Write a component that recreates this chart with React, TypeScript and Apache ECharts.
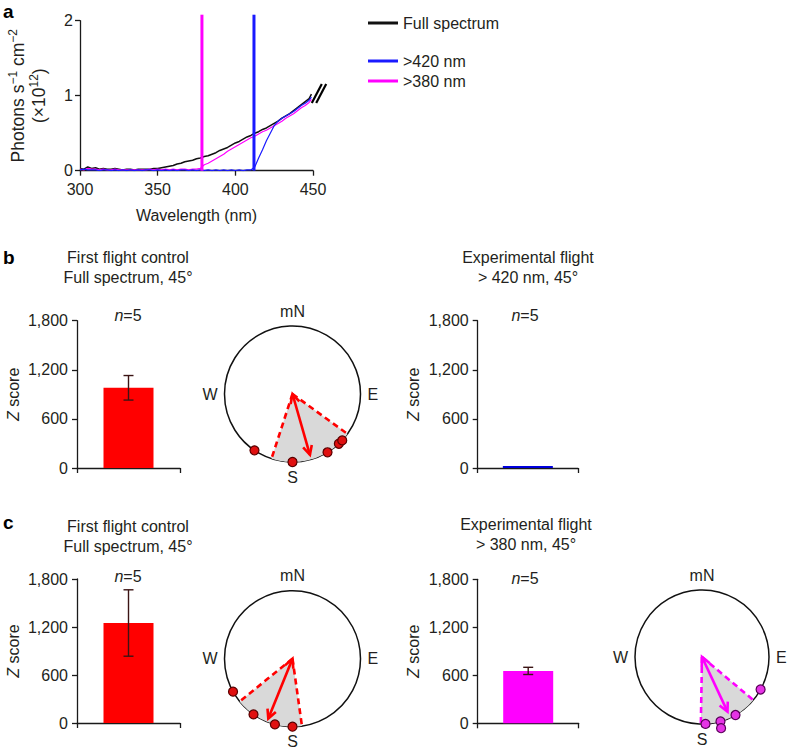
import React, { useEffect, useRef } from 'react';
import * as echarts from 'echarts';

const FONT = "'Liberation Sans', Arial, Helvetica, sans-serif";
const TXT = '#231f20';
const AX = '#1a1a1a';

// ---------- panel a: spectra ----------
const wavelengths = [
  300, 302.5, 305, 307.5, 310, 312.5, 315, 317.5, 320, 322.5, 325, 327.5, 330, 332.5, 335, 337.5, 340, 342.5, 345, 347.5,
  350, 352.5, 355, 357.5, 360, 362.5, 365, 367.5, 370, 372.5, 375, 377.5, 380, 382.5, 385, 387.5, 390, 392.5, 395, 397.5,
  400, 402.5, 405, 407.5, 410, 412.5, 415, 417.5, 420, 422.5, 425, 427.5, 430, 432.5, 435, 437.5, 440, 442.5, 445, 447.5, 449,
];
const fullSpectrum = [
  0.03, 0.02, 0.05, 0.03, 0.04, 0.02, 0.03, 0.02, 0.02, 0.03, 0.02, 0.01, 0.02, 0.02, 0.01, 0.02, 0.02, 0.02, 0.02, 0.03,
  0.03, 0.04, 0.05, 0.06, 0.07, 0.09, 0.1, 0.12, 0.13, 0.14, 0.16, 0.17, 0.19, 0.2, 0.22, 0.24, 0.27, 0.29, 0.31, 0.34,
  0.37, 0.39, 0.42, 0.45, 0.47, 0.5, 0.52, 0.55, 0.57, 0.6, 0.63, 0.66, 0.7, 0.73, 0.76, 0.8, 0.84, 0.88, 0.92, 0.96, 1.02,
];
const above380 = [
  0.02, 0.01, 0.03, 0.02, 0.02, 0.01, 0.02, 0.01, 0.01, 0.02, 0.01, 0.01, 0.01, 0.01, 0.01, 0.01, 0.01, 0.01, 0.02, 0.01,
  0.02, 0.01, 0.02, 0.01, 0.02, 0.01, 0.02, 0.02, 0.01, 0.02, 0.02, 0.03, 0.08, 0.1, 0.13, 0.16, 0.19, 0.22, 0.26, 0.29,
  0.32, 0.35, 0.38, 0.41, 0.44, 0.46, 0.49, 0.52, 0.54, 0.57, 0.6, 0.63, 0.66, 0.7, 0.73, 0.76, 0.8, 0.84, 0.87, 0.91, 0.95,
];
const above420 = [
  0.01, 0.02, 0.01, 0.01, 0.01, 0.0, 0.01, 0.01, 0.0, 0.01, 0.0, 0.01, 0.0, 0.01, 0.0, 0.01, 0.0, 0.01, 0.01, 0.0,
  0.01, 0.0, 0.01, 0.0, 0.01, 0.0, 0.01, 0.01, 0.0, 0.01, 0.0, 0.01, 0.0, 0.01, 0.0, 0.01, 0.0, 0.01, 0.0, 0.01,
  0.0, 0.01, 0.0, 0.01, 0.01, 0.05, 0.17, 0.28, 0.4, 0.5, 0.6, 0.66, 0.7, 0.73, 0.76, 0.79, 0.83, 0.87, 0.9, 0.94, 0.98,
];
const cutoffLines = [378.5, 412]; // >380 nm filter edge, >420 nm filter edge
const cutoffTop = 2.08;
const breakMark = [450, 1.05];

// ---------- bar panels ----------
const zTickValues = [0, 600, 1200, 1800];
const zTickLabels = ['0', '600', '1,200', '1,800'];
const barCategories = [''];
const zMeans = [980, 25, 1250, 655]; // b control, b >420, c control, c >380
const zErrors = [150, 0, 415, 45];
const sampleSizes = ['5', '5', '5', '5'];
const panelTitles = [
  ['First flight control', 'Full spectrum, 45°'],
  ['Experimental flight', '> 420 nm, 45°'],
  ['First flight control', 'Full spectrum, 45°'],
  ['Experimental flight', '> 380 nm, 45°'],
];

// ---------- circular panels: [radius, bearing] ----------
const compassLabels = ['mN', 'E', 'S', 'W', 'mN'];
const bControlDots = [[1, 214], [1, 180], [1, 149], [1, 137], [1, 133]];
const bControlMean = [0.93, 164];
const bControlCI = [126, 198];
const cControlDots = [[1, 241], [1, 215], [1, 195], [1, 180]];
const cControlMean = [0.95, 202];
const cControlCI = [172, 231];
const cExpDots = [[1, 119], [1, 150], [1, 164], [1.1, 165], [1, 177]];
const cExpMean = [0.9, 155];
const cExpCI = [130, 181];

const RED = '#ff0000';
const MAG = '#ff00ff';
const BLUE = '#1a1aff';

export default function App() {
  const ref = useRef<HTMLDivElement>(null);
  useEffect(() => {
    document.body.style.margin = '0';
    const chart = echarts.init(ref.current!, null, { renderer: 'svg' });

    const txt = { color: TXT, fontFamily: FONT, fontSize: 16 };

    const grids = [
      { left: 80, top: 20.7, width: 233, height: 150 },
      { left: 77, top: 320.7, width: 103, height: 147.3 },
      { left: 477.7, top: 320.7, width: 100.3, height: 147.3 },
      { left: 77, top: 579, width: 103, height: 144 },
      { left: 477.7, top: 579.3, width: 101, height: 144 },
    ];

    const axisLine = { show: true, lineStyle: { color: AX, width: 1.3 } };
    const axisTick = { show: true, length: 5, lineStyle: { color: AX, width: 1.3 } };

    const xAxes: any[] = [
      {
        gridIndex: 0, type: 'value', min: 300, max: 450, interval: 50,
        axisLine, axisTick, splitLine: { show: false },
        axisLabel: { ...txt, margin: 11 },
        name: 'Wavelength (nm)', nameLocation: 'middle', nameGap: 37, nameTextStyle: { ...txt },
      },
    ];
    const yAxes: any[] = [
      {
        gridIndex: 0, type: 'value', min: 0, max: 2, interval: 1,
        axisLine, axisTick, splitLine: { show: false },
        axisLabel: { ...txt, margin: 7 },
        name: 'Photons s{sup|−1} cm{sup|−2}\n(×10{sup|12})', nameLocation: 'middle', nameRotate: 90, nameGap: 31,
        nameTextStyle: {
          ...txt, fontSize: 17.5, lineHeight: 21,
          rich: {
            sup: { color: TXT, fontFamily: FONT, fontSize: 12, verticalAlign: 'top', lineHeight: 14 },
          },
        },
      },
    ];
    for (let i = 1; i <= 4; i++) {
      xAxes.push({
        gridIndex: i, type: 'category', data: barCategories,
        axisLine, axisTick, axisLabel: { show: false }, splitLine: { show: false },
      });
      yAxes.push({
        gridIndex: i, type: 'value', min: 0, max: 1800, interval: 600,
        axisLine, axisTick, splitLine: { show: false },
        axisLabel: {
          ...txt, margin: 9,
          formatter: (v: number) => {
            const k = zTickValues.indexOf(v);
            return k >= 0 ? zTickLabels[k] : '';
          },
        },
        name: '{i|Z} score', nameLocation: 'middle', nameRotate: 90, nameGap: 56,
        nameTextStyle: { ...txt, rich: { i: { ...txt, fontStyle: 'italic' } } },
      });
    }

    const specData = (vals: number[]) => wavelengths.map((w, k) => [w, vals[k]]);

    const series: any[] = [
      {
        type: 'line', name: 'Full spectrum', xAxisIndex: 0, yAxisIndex: 0, data: specData(fullSpectrum),
        showSymbol: false, lineStyle: { color: '#111', width: 1.5 }, itemStyle: { color: '#111' },
      },
      {
        type: 'line', name: '>380 nm', xAxisIndex: 0, yAxisIndex: 0, data: specData(above380),
        showSymbol: false, lineStyle: { color: MAG, width: 1.2 }, itemStyle: { color: MAG },
      },
      {
        type: 'line', name: '>420 nm', xAxisIndex: 0, yAxisIndex: 0, data: specData(above420),
        showSymbol: false, lineStyle: { color: BLUE, width: 1.2 }, itemStyle: { color: BLUE },
      },
      {
        type: 'line', name: '>380 nm', xAxisIndex: 0, yAxisIndex: 0, clip: false,
        data: [[cutoffLines[0], 0], [cutoffLines[0], cutoffTop]],
        showSymbol: false, lineStyle: { color: MAG, width: 3 }, itemStyle: { color: MAG },
      },
      {
        type: 'line', name: '>420 nm', xAxisIndex: 0, yAxisIndex: 0, clip: false,
        data: [[cutoffLines[1], 0], [cutoffLines[1], cutoffTop]],
        showSymbol: false, lineStyle: { color: BLUE, width: 3 }, itemStyle: { color: BLUE },
      },
      {
        type: 'custom', xAxisIndex: 0, yAxisIndex: 0, data: [breakMark], clip: false, silent: true,
        renderItem: (_p: any, api: any) => {
          const p = api.coord([api.value(0), api.value(1)]);
          const cx = p[0] + 6, cy = p[1] + 1;
          const mk = (off: number) => ({
            type: 'line',
            shape: { x1: cx - 5 + off, y1: cy + 10, x2: cx + 5 + off, y2: cy - 9 },
            style: { stroke: '#000', lineWidth: 2.2 },
          });
          return { type: 'group', children: [mk(-2.2), mk(2.2)] };
        },
      },
    ];

    const barColors = [RED, '#0000dd', RED, MAG];
    for (let i = 0; i < 4; i++) {
      series.push({
        type: 'bar', xAxisIndex: i + 1, yAxisIndex: i + 1, data: [zMeans[i]], barWidth: 50,
        itemStyle: { color: barColors[i] },
      });
      if (zErrors[i] > 0) {
        series.push({
          type: 'custom', xAxisIndex: i + 1, yAxisIndex: i + 1, z: 5,
          data: [[0, zMeans[i] - zErrors[i], zMeans[i] + zErrors[i]]],
          renderItem: (_p: any, api: any) => {
            const lo = api.coord([api.value(0), api.value(1)]);
            const hi = api.coord([api.value(0), api.value(2)]);
            const w = 5;
            const st = { stroke: '#3b1414', lineWidth: 1.4 };
            return {
              type: 'group',
              children: [
                { type: 'line', shape: { x1: lo[0], y1: lo[1], x2: hi[0], y2: hi[1] }, style: st },
                { type: 'line', shape: { x1: hi[0] - w, y1: hi[1], x2: hi[0] + w, y2: hi[1] }, style: st },
                { type: 'line', shape: { x1: lo[0] - w, y1: lo[1], x2: lo[0] + w, y2: lo[1] }, style: st },
              ],
            };
          },
        });
      }
    }

    // circular stats
    const circ = (polarIndex: number, mean: number[], ci: number[], color: string) => ({
      type: 'custom', coordinateSystem: 'polar', polarIndex, z: 2, silent: true,
      data: [[mean[0], mean[1], ci[0], ci[1]]],
      renderItem: (_p: any, api: any) => {
        const len = api.value(0), ang = api.value(1), lo = api.value(2), hi = api.value(3);
        const c = api.coord([0, ang]);
        const pts: number[][] = [c];
        for (let a = lo; a < hi; a += 2) pts.push(api.coord([1, a]));
        pts.push(api.coord([1, hi]));
        const pLo = api.coord([1, lo]);
        const pHi = api.coord([1, hi]);
        const tip = api.coord([len, ang]);
        const dx = tip[0] - c[0], dy = tip[1] - c[1];
        const L = Math.hypot(dx, dy);
        const ux = dx / L, uy = dy / L;
        const head = (p: number[], d: number[]) => {
          const s = 9, w = 4.5;
          const bx = p[0] - d[0] * s, by = p[1] - d[1] * s;
          return [[bx - d[1] * w, by + d[0] * w], [p[0], p[1]], [bx + d[1] * w, by - d[0] * w]];
        };
        const dash = { stroke: color, lineWidth: 2.6, lineDash: [6, 4] };
        const solid = { stroke: color, lineWidth: 2.6, fill: 'none' };
        return {
          type: 'group',
          children: [
            { type: 'polygon', shape: { points: pts }, style: { fill: '#d9d9d9' } },
            { type: 'line', shape: { x1: c[0], y1: c[1], x2: pLo[0], y2: pLo[1] }, style: dash },
            { type: 'line', shape: { x1: c[0], y1: c[1], x2: pHi[0], y2: pHi[1] }, style: dash },
            { type: 'line', shape: { x1: c[0], y1: c[1], x2: tip[0], y2: tip[1] }, style: solid },
            { type: 'polyline', shape: { points: head(tip, [ux, uy]) }, style: solid },
            { type: 'polyline', shape: { points: head(c, [-ux, -uy]) }, style: solid },
          ],
        };
      },
    });
    const dots = (polarIndex: number, data: number[][], fill: string, border: string) => ({
      type: 'scatter', coordinateSystem: 'polar', polarIndex, z: 4, data, symbolSize: 9, clip: false,
      itemStyle: { color: fill, borderColor: border, borderWidth: 1.2, opacity: 1 },
    });
    series.push(circ(0, bControlMean, bControlCI, RED));
    series.push(dots(0, bControlDots, '#e01010', '#5a0000'));
    series.push(circ(1, cControlMean, cControlCI, RED));
    series.push(dots(1, cControlDots, '#e01010', '#5a0000'));
    series.push(circ(2, cExpMean, cExpCI, MAG));
    series.push(dots(2, cExpDots, '#e633e6', '#5a005a'));

    const polars = [
      { center: [292.5, 394], radius: 68 },
      { center: [292.5, 658.7], radius: 68 },
      { center: [702, 657], radius: 67 },
    ];
    const angleAxes = polars.map((_, i) => ({
      polarIndex: i, type: 'value', min: 0, max: 360, interval: 90, startAngle: 90, clockwise: true,
      axisLine: { show: true, lineStyle: { color: '#111', width: 1.5 } },
      axisTick: { show: false }, splitLine: { show: false }, splitArea: { show: false },
      axisLabel: { ...txt, margin: 7, formatter: (v: number) => compassLabels[Math.round(v / 90)] },
    }));
    const radiusAxes = polars.map((_, i) => ({
      polarIndex: i, type: 'value', min: 0, max: 1,
      axisLine: { show: false }, axisTick: { show: false }, axisLabel: { show: false },
      splitLine: { show: false }, splitArea: { show: false },
    }));

    const legendBase = {
      orient: 'vertical', left: 363, itemWidth: 30, itemHeight: 3, icon: 'rect', itemGap: 5,
      textStyle: { ...txt }, selectedMode: false,
    };

    const graphics: any[] = [];
    const letter = (t: string, x: number, y: number) => ({
      type: 'text', x, y, silent: true,
      style: { text: t, fill: '#000', fontFamily: FONT, fontSize: 19, fontWeight: 'bold', align: 'left', verticalAlign: 'middle' },
    });
    graphics.push(letter('a', 3, 11));
    graphics.push(letter('b', 3, 257));
    graphics.push(letter('c', 3, 522));
    const titlePos = [
      [128, 257], [528, 257], [128, 526], [526, 524],
    ];
    const nPos = [[128, 315], [525, 315], [128, 576], [525, 578]];
    panelTitles.forEach((lines, i) => {
      lines.forEach((line, j) => {
        graphics.push({
          type: 'text', x: titlePos[i][0], y: titlePos[i][1] + j * 20, silent: true,
          style: { text: line, fill: TXT, fontFamily: FONT, fontSize: 16, align: 'center', verticalAlign: 'middle' },
        });
      });
      graphics.push({
        type: 'text', x: nPos[i][0], y: nPos[i][1], silent: true,
        style: {
          text: '{i|n}{r|=' + sampleSizes[i] + '}', fill: TXT, fontFamily: FONT, fontSize: 16,
          align: 'center', verticalAlign: 'middle',
          rich: {
            i: { fill: TXT, fontFamily: FONT, fontSize: 16, fontStyle: 'italic' },
            r: { fill: TXT, fontFamily: FONT, fontSize: 16 },
          },
        },
      });
    });

    chart.setOption({
      animation: false,
      textStyle: { fontFamily: FONT },
      grid: grids,
      xAxis: xAxes,
      yAxis: yAxes,
      polar: polars,
      angleAxis: angleAxes,
      radiusAxis: radiusAxes,
      legend: [
        { ...legendBase, top: 10, data: ['Full spectrum'] },
        { ...legendBase, top: 48, data: ['>420 nm'] },
        { ...legendBase, top: 68, data: ['>380 nm'] },
      ],
      series,
      graphic: graphics,
    });
    return () => chart.dispose();
  }, []);
  return <div ref={ref} style={{ width: 788, height: 751 }} />;
}
